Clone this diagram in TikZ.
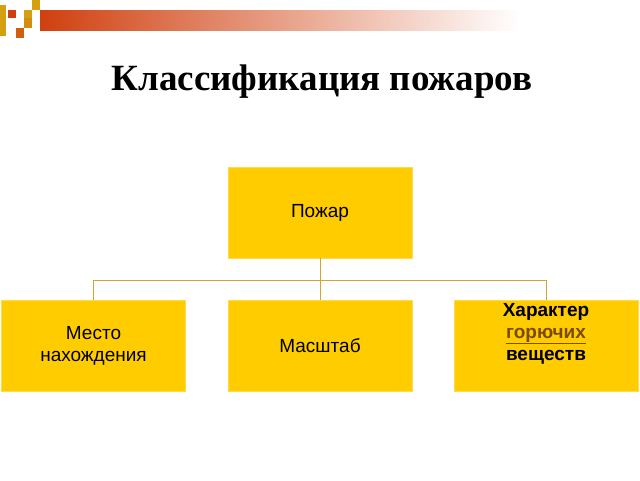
\documentclass[tikz,border=0pt]{standalone}
\usepackage{fontspec}
\setmainfont{Liberation Serif}
\newfontfamily\boxfont{Liberation Sans}
\definecolor{firefill}{HTML}{FFCC00}
\definecolor{linkgold}{HTML}{D4A52A}
\definecolor{barred}{HTML}{D0400F}
\definecolor{squaregold}{HTML}{D4A010}
\definecolor{wordbrown}{HTML}{7A4A00}
\tikzset{
  firebox/.style={draw=firefill!70!white, fill=firefill, minimum width=184pt,
    minimum height=91pt, font=\boxfont\fontsize{19}{22}\selectfont, align=center},
  link/.style={draw=linkgold, line width=0.8pt}
}
\begin{document}
\begin{tikzpicture}[x=1pt,y=-1pt]
    \useasboundingbox (0,0) rectangle (640,480);
    % Header bar and squares
    \shade[left color=barred, right color=white] (40,10) rectangle (520,30);
    \fill[white] (520,10) rectangle (640,30);
    \fill[squaregold] (0,5) rectangle (6,36);
    \fill[barred] (8,10) rectangle (16,18);
    \fill[squaregold] (24,10) rectangle (32,18);
    \fill[squaregold] (32,0) rectangle (40,10);
    \fill[squaregold!80!barred] (24,18) rectangle (32,28);
    \fill[barred!70!squaregold] (16,28) rectangle (24,38);

    % Title
    \node (title) at (322,82) {\bfseries\fontsize{37}{40}\selectfont Классификация пожаров};

    % Boxes
    \node[firebox] (fire) at (320,212.5) {Пожар};
    \node[firebox] (place) at (93.5,346) {Место\\нахождения};
    \node[firebox] (scale) at (320,346) {Масштаб};
    \node[firebox, inner sep=2pt] (kind) at (546,346)
      {\parbox[c][86pt][t]{178pt}{\centering\bfseries\fontsize{19}{22}\selectfont
        Характер\\{\color{wordbrown}\underline{горючих}}\\веществ}};

    % Connectors
    \coordinate (fork) at (320,280);
    \draw[link] (fire.south) -- (fork);
    \draw[link] (place.north) |- (fork);
    \draw[link] (kind.north) |- (fork);
    \draw[link] (fork) -- (scale.north);
\end{tikzpicture}
\end{document}
